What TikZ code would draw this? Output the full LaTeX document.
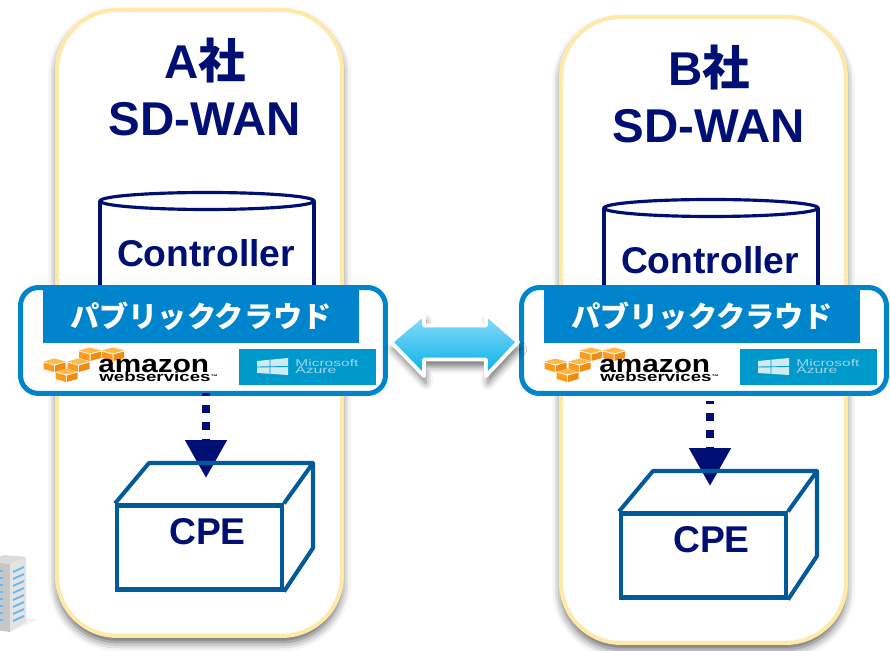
\documentclass[tikz,border=0pt]{standalone}
\usepackage{graphicx}
\usepackage{fontspec}
\setmainfont{Liberation Sans}
\newfontfamily\cjk{Noto Sans CJK JP}
\usetikzlibrary{arrows.meta,shadows.blur}
\definecolor{navyline}{HTML}{000F73}
\definecolor{boxblue}{HTML}{005A9C}
\definecolor{cloudblue}{HTML}{0085CC}
\definecolor{panelyellow}{HTML}{FFE9A8}
\definecolor{azureblue}{HTML}{0099CC}
\definecolor{azuretext}{HTML}{9FD5E6}
\definecolor{linktop}{HTML}{8FDCF8}
\definecolor{linkbottom}{HTML}{00B0E8}
\definecolor{awslight}{HTML}{FFB84A}
\definecolor{awsmid}{HTML}{FF9A1E}
\definecolor{awsdark}{HTML}{F08C10}
\definecolor{serverstripe}{HTML}{6BB8EE}
\tikzset{
	panelbox/.style={draw=panelyellow,fill=white,line width=2.3pt,rounded corners=1.2cm,minimum width=5.7cm,minimum height=12.52cm,
		blur shadow={shadow xshift=0pt,shadow yshift=-3.5pt,shadow blur radius=5pt,shadow opacity=65}},
	titletext/.style={text=navyline,align=center,font=\fontsize{27}{32.4}\selectfont\bfseries},
	boxtext/.style={text=navyline,font=\fontsize{21.2}{25}\selectfont\bfseries},
	cloudbox/.style={draw=cloudblue,fill=white,line width=2.85pt,rounded corners=0.36cm,minimum width=7.3cm,minimum height=2.12cm},
	banner/.style={fill=cloudblue,text=white,minimum width=6.32cm,minimum height=1.06cm,font=\fontsize{16.6}{20}\selectfont\cjk\bfseries},
	azurebox/.style={fill=azureblue,minimum width=2.74cm,minimum height=0.72cm},
	azuretitle/.style={text=azuretext,font=\fontsize{5.6}{6}\selectfont,anchor=base west,inner sep=0pt},
	awstext/.style={anchor=base west,inner sep=0pt},
	cpefront/.style={draw=boxblue,line width=2.3pt,minimum width=3.3cm,minimum height=1.68cm},
	cpeline/.style={draw=boxblue,line width=2.3pt,line join=round},
	ctrlline/.style={draw=navyline,line width=1.8pt},
	dotarrow/.style={draw=navyline,line width=4.55pt,dash pattern=on 4.55pt off 5.1pt,dash phase=2.85pt,
		-{Triangle[length=21.6pt,width=22.8pt,fill=navyline]}},
	linkarrow/.style={draw=white,line width=2.2pt,line join=round,top color=linktop,bottom color=linkbottom,
		blur shadow={shadow xshift=1pt,shadow yshift=-4pt,shadow blur radius=4pt,shadow opacity=55}},
	awscube/.pic={
		\fill[awslight] (-11,-3.5) -- (0,-6.5) -- (11,-3.5) -- (0,-0.5) -- cycle;
		\fill[awsmid] (-11,-2.5) -- (-0.5,0.5) -- (-0.5,7) -- (-11,4) -- cycle;
		\fill[awsdark] (11,-2.5) -- (0.5,0.5) -- (0.5,7) -- (11,4) -- cycle;
	}
}
\begin{document}
\begin{tikzpicture}[x=0.02cm,y=-0.02cm]
\useasboundingbox (0,0) rectangle (890,651);

\fill[black!5] (10,632) -- (38,619) -- (26,618) -- cycle;
\fill[black!22] (-12,561) -- (10,564) -- (10,632) -- (-12,629) -- cycle;
\fill[black!14] (-12,561) -- (10,564) -- (26,557) -- (4,555) -- cycle;
\fill[black!11] (10,564) -- (26,557) -- (26,622) -- (10,632) -- cycle;
\foreach \k in {0,...,7} {
	\draw[serverstripe,line width=1.1pt] (13,572+7*\k) -- (24,567+7*\k);
	\draw[serverstripe,line width=1.1pt] (0,571+7*\k) -- (3,571+7*\k);
}

\foreach \co/\lab/\dx/\dy in {a/A/0/0,b/B/504/7} {
	\begin{scope}[shift={(\dx,\dy)}]
	\node[panelbox] (panel-\co) at (199.5,323) {};
	\node[titletext] (title-\co) at (205,87) {\lab{\cjk 社}\\SD-WAN};
	\draw[ctrlline,fill=white] (100,201) -- (100,320) -- (314,320) -- (314,201);
	\draw[ctrlline,fill=white] (207,201) ellipse [x radius=107,y radius=8.5];
	\node[boxtext] (ctrl-\co) at (206,253) {Controller};
	\end{scope}
}

\foreach \co/\dx in {a/0,b/501} {
	\begin{scope}[shift={(\dx,0)}]
	\node[cloudbox] (cloud-\co) at (203,340.5) {};
	\node[banner] (banner-\co) at (201,316.5) {パブリッククラウド};
	\pic at (90,354) {awscube};
	\pic at (113,354) {awscube};
	\pic at (54.5,365) {awscube};
	\pic at (78.5,365) {awscube};
	\pic at (66.5,375) {awscube};
	\node[awstext,font=\fontsize{14}{14}\selectfont\bfseries] (amazon-\co) at (98,372.5) {\scalebox{1.21}[1]{amazon}};
	\node[awstext,font=\fontsize{7.6}{7.6}\selectfont\bfseries] (aws-\co) at (99,382) {\scalebox{1.4}[1]{webservices{\fontsize{3}{3}\selectfont\raisebox{2pt}{™}}}};
	\node[azurebox] (azure-\co) at (307.5,367) {};
	\fill[azuretext!50!white] (257,361) -- (288,358) -- (288,375) -- (257,373) -- cycle;
	\draw[azureblue,line width=0.5pt] (270,359) -- (270,375) (257,367) -- (288,366.5);
	\node[azuretitle] (ms-\co) at (295,366.5) {\scalebox{1.58}[1]{Microsoft}};
	\node[azuretitle] (az-\co) at (295,374) {\scalebox{1.6}[1]{Azure}};
	\end{scope}
}

\foreach \co/\dx/\dy in {a/0/0,b/504/8} {
	\begin{scope}[shift={(\dx,\dy)}]
	\coordinate (top-\co) at (206,393);
	\coordinate (tip-\co) at (206,478);
	\draw[dotarrow] (top-\co) -- (tip-\co);
	\node[cpefront] (cpe-\co) at (199.5,547.5) {};
	\draw[cpeline] (cpe-\co.north west) -- (149,463) -- (313,463) -- (cpe-\co.north east);
	\draw[cpeline] (313,463) -- (313,548) -- (cpe-\co.south east);
	\node[boxtext] (cpetext-\co) at (207.5,532) {CPE};
	\end{scope}
}

\draw[linkarrow] (391,342) -- (424,314) -- (424,325.5) -- (486,325.5) -- (486,314) -- (518,342) -- (486,376) -- (486,359.5) -- (424,359.5) -- (424,376) -- cycle;
\end{tikzpicture}
\end{document}
